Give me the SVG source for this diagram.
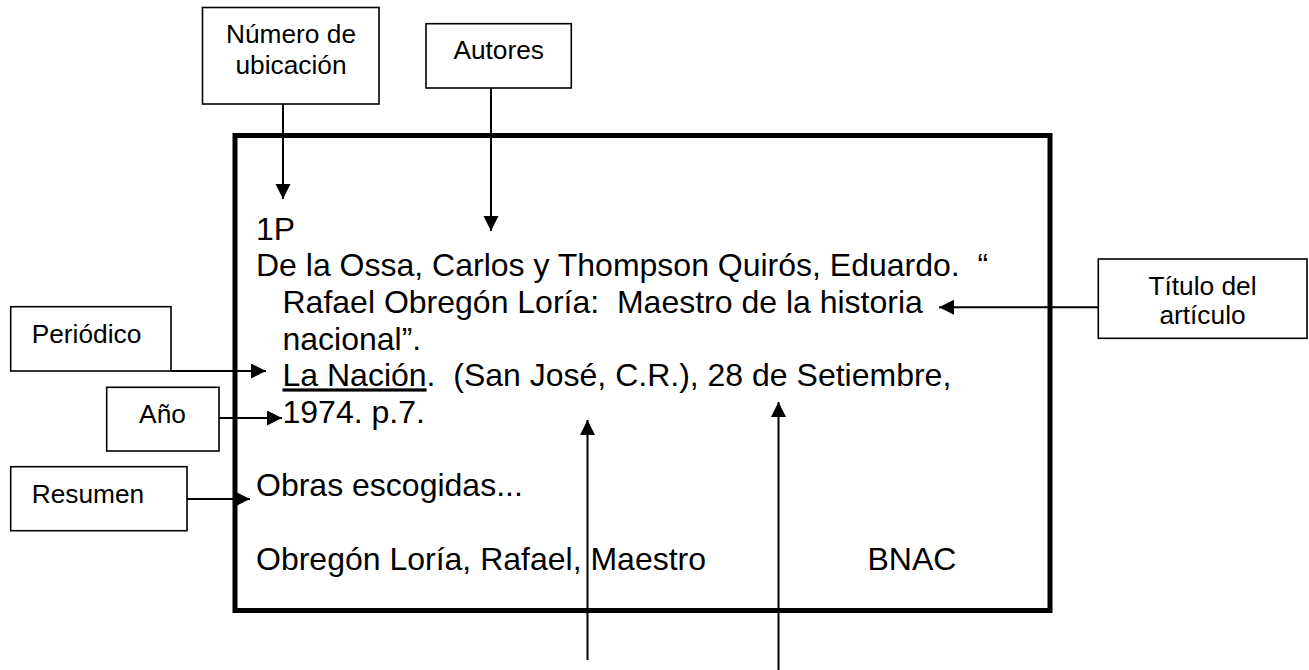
<svg xmlns="http://www.w3.org/2000/svg" width="1309" height="670" viewBox="0 0 1309 670">
<style>
.box{fill:#fff;stroke:#000;stroke-width:1.6}
.lbl{font-family:"Liberation Sans",Arial,sans-serif;font-size:26.3px;fill:#000}
.main{font-family:"Liberation Sans",Arial,sans-serif;font-size:32px;fill:#000;white-space:pre}
.conn{stroke:#000;stroke-width:2;fill:none;marker-end:url(#ah)}
</style>
<defs>
<marker id="ah" markerUnits="userSpaceOnUse" markerWidth="16" markerHeight="16" refX="15" refY="7.5" orient="auto">
<path d="M0,0 L15,7.5 L0,15 Z" fill="#000"/>
</marker>
</defs>
<rect width="1309" height="670" fill="#fff"/>
<g id="ficha">
<rect x="235" y="135.5" width="815" height="475" fill="none" stroke="#000" stroke-width="5"/>
<text class="main" x="256" y="240">1P</text>
<text class="main" x="256" y="276.3" xml:space="preserve">De la Ossa, Carlos y Thompson Quirós, Eduardo.  “</text>
<text class="main" x="282.5" y="313" xml:space="preserve">Rafael Obregón Loría:  Maestro de la historia</text>
<text class="main" x="282.5" y="349.8">nacional”.</text>
<text class="main" x="282.5" y="386.4" xml:space="preserve"><tspan text-decoration="underline">La Nación</tspan>.  (San José, C.R.), 28 de Setiembre,</text>
<text class="main" x="282.5" y="423">1974. p.7.</text>
<text class="main" x="256" y="496">Obras escogidas...</text>
<text class="main" x="256" y="570">Obregón Loría, Rafael, Maestro</text>
<text class="main" x="867.5" y="570">BNAC</text>
</g>
<g id="numero">
<rect class="box" x="202.5" y="7.5" width="176.5" height="96.5"/>
<text class="lbl" x="291" y="43" text-anchor="middle">Número de</text>
<text class="lbl" x="291" y="74" text-anchor="middle">ubicación</text>
</g>
<g id="autores">
<rect class="box" x="426" y="23.7" width="145.3" height="64.3"/>
<text class="lbl" x="498.7" y="59" text-anchor="middle">Autores</text>
</g>
<g id="titulo">
<rect class="box" x="1098.3" y="259" width="208.7" height="79.3"/>
<text class="lbl" x="1202.5" y="295" text-anchor="middle">Título del</text>
<text class="lbl" x="1202.5" y="323.5" text-anchor="middle">artículo</text>
</g>
<g id="periodico">
<rect class="box" x="10.7" y="306.7" width="160.3" height="64.3"/>
<text class="lbl" x="31.7" y="342.7">Periódico</text>
</g>
<g id="anio">
<rect class="box" x="106.7" y="387.3" width="112.3" height="63.7"/>
<text class="lbl" x="162.5" y="423" text-anchor="middle">Año</text>
</g>
<g id="resumen">
<rect class="box" x="10.7" y="466.7" width="176.3" height="64"/>
<text class="lbl" x="31.7" y="502.7">Resumen</text>
</g>
<g id="connectors">
<line class="conn" x1="283" y1="104" x2="283" y2="199"/>
<line class="conn" x1="491" y1="88" x2="491" y2="231"/>
<line class="conn" x1="1098" y1="307.3" x2="939" y2="307.3"/>
<line class="conn" x1="171" y1="371" x2="266" y2="371"/>
<line class="conn" x1="219" y1="418" x2="282" y2="418"/>
<line class="conn" x1="187" y1="499" x2="250" y2="499"/>
<line class="conn" x1="587.5" y1="660" x2="587.5" y2="420"/>
<line class="conn" x1="778.5" y1="670" x2="778.5" y2="402"/>
</g>
</svg>
